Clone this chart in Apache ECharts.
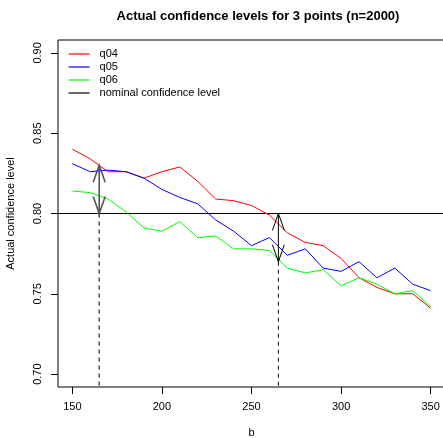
<!DOCTYPE html>
<html>
<head>
<meta charset="utf-8">
<script src="https://cdn.jsdelivr.net/npm/echarts@6/dist/echarts.min.js"></script>
<style>
  html, body { margin: 0; padding: 0; background: #fff; }
  #chart { width: 443px; height: 438px; }
</style>
</head>
<body>
<div id="chart"></div>
<script>
// values
var b = [150, 160, 170, 180, 190, 200, 210, 220, 230, 240, 250, 260, 270, 280, 290, 300, 310, 320, 330, 340, 350];
var q04 = [0.840, 0.834, 0.826, 0.826, 0.822, 0.826, 0.829, 0.820, 0.809, 0.808, 0.805, 0.799, 0.788, 0.782, 0.780, 0.772, 0.760, 0.754, 0.750, 0.750, 0.741];
var q05 = [0.831, 0.826, 0.827, 0.826, 0.822, 0.815, 0.810, 0.806, 0.796, 0.789, 0.780, 0.785, 0.774, 0.778, 0.766, 0.764, 0.770, 0.760, 0.766, 0.756, 0.752];
var q06 = [0.814, 0.813, 0.809, 0.801, 0.791, 0.789, 0.795, 0.785, 0.786, 0.778, 0.778, 0.777, 0.766, 0.763, 0.765, 0.755, 0.760, 0.756, 0.750, 0.752, 0.742];
var nominal = 0.80;

// double arrows showing the gap to the nominal level
var arrowB = [165, 265];
var arrowLow = [0.800, 0.770];
var arrowHigh = [0.830, 0.800];

var xTicks = [150, 200, 250, 300, 350];
var yTicks = [0.70, 0.75, 0.80, 0.85, 0.90];

var font = 'Liberation Sans, Arial, sans-serif';

function pairs(ys) {
    return b.map(function (x, i) { return [x, ys[i]]; });
}

function lineSeries(name, ys, color) {
    return {
        name: name,
        type: 'line',
        data: pairs(ys),
        symbol: 'none',
        lineStyle: { color: color, width: 1 },
        itemStyle: { color: color },
        animation: false,
        z: 3
    };
}

var arrowData = arrowB.map(function (x, i) { return [x, arrowLow[i], arrowHigh[i]]; });

function renderArrow(params, api) {
    var x = api.value(0);
    var lo = api.coord([x, api.value(1)]);
    var hi = api.coord([x, api.value(2)]);
    var bottom = params.coordSys.y + params.coordSys.height;
    var col = params.dataIndex === 0 ? '#555' : '#000';
    var w = params.dataIndex === 0 ? 1.6 : 1;
    var hl = 17, hw = 6;
    var st = { stroke: col, lineWidth: w, fill: null };
    return {
        type: 'group',
        children: [
            { type: 'line', shape: { x1: lo[0], y1: lo[1], x2: hi[0], y2: hi[1] }, style: st },
            { type: 'polyline', shape: { points: [[hi[0] - hw, hi[1] + hl], [hi[0], hi[1]], [hi[0] + hw, hi[1] + hl]] }, style: st },
            { type: 'polyline', shape: { points: [[lo[0] - hw, lo[1] - hl], [lo[0], lo[1]], [lo[0] + hw, lo[1] - hl]] }, style: st },
            { type: 'line', shape: { x1: lo[0], y1: lo[1], x2: lo[0], y2: bottom }, style: { stroke: col, lineWidth: w, lineDash: [4, 4] } }
        ]
    };
}

var chart = echarts.init(document.getElementById('chart'));
chart.setOption({
    backgroundColor: '#fff',
    animation: false,
    textStyle: { fontFamily: font, color: '#000' },
    title: {
        text: 'Actual confidence levels for 3 points (n=2000)',
        left: 253,
        top: 5,
        textAlign: 'center',
        textStyle: { fontFamily: font, fontSize: 13, fontWeight: 'bold', color: '#000' }
    },
    grid: {
        left: 58, top: 40, right: -2, bottom: 51,
        outerBoundsMode: 'none',
        containLabel: false,
        show: true, borderColor: '#000', borderWidth: 1
    },
    legend: {
        orient: 'vertical',
        left: 68,
        top: 47.5,
        itemWidth: 21,
        itemHeight: 13,
        itemGap: 0,
        padding: 0,
        itemStyle: { opacity: 0 },
        lineStyle: { width: 1.2 },
        data: ['q04', 'q05', 'q06', 'nominal confidence level'],
        textStyle: { fontFamily: font, fontSize: 11, color: '#000', lineHeight: 13, padding: [0, 0, 0, 5] }
    },
    xAxis: {
        type: 'value',
        min: 142, max: 358,
        name: 'b',
        nameLocation: 'middle',
        nameGap: 40,
        nameTextStyle: { fontFamily: font, fontSize: 11, color: '#000' },
        axisLine: { show: false },
        axisTick: { show: true, length: 7, customValues: xTicks, lineStyle: { color: '#000' } },
        axisLabel: { customValues: xTicks, margin: 14, fontFamily: font, fontSize: 11, color: '#000' },
        splitLine: { show: false }
    },
    yAxis: {
        type: 'value',
        min: 0.692, max: 0.908,
        name: 'Actual confidence level',
        nameLocation: 'middle',
        nameGap: 42,
        nameTextStyle: { fontFamily: font, fontSize: 11, color: '#000' },
        axisLine: { show: false },
        axisTick: { show: true, length: 7, customValues: yTicks, lineStyle: { color: '#000' } },
        axisLabel: {
            customValues: yTicks, rotate: 90, margin: 15,
            fontFamily: font, fontSize: 11, color: '#000',
            formatter: function (v) { return v.toFixed(2); }
        },
        splitLine: { show: false }
    },
    series: [
        lineSeries('q04', q04, '#ff0000'),
        lineSeries('q05', q05, '#0000ff'),
        lineSeries('q06', q06, '#00ff00'),
        {
            name: 'nominal confidence level',
            type: 'line',
            data: [[142, nominal], [358, nominal]],
            symbol: 'none',
            lineStyle: { color: '#000', width: 1 },
            itemStyle: { color: '#000' },
            z: 2
        },
        {
            name: 'arrows',
            type: 'custom',
            renderItem: renderArrow,
            data: arrowData,
            z: 4
        }
    ]
});
</script>
</body>
</html>
